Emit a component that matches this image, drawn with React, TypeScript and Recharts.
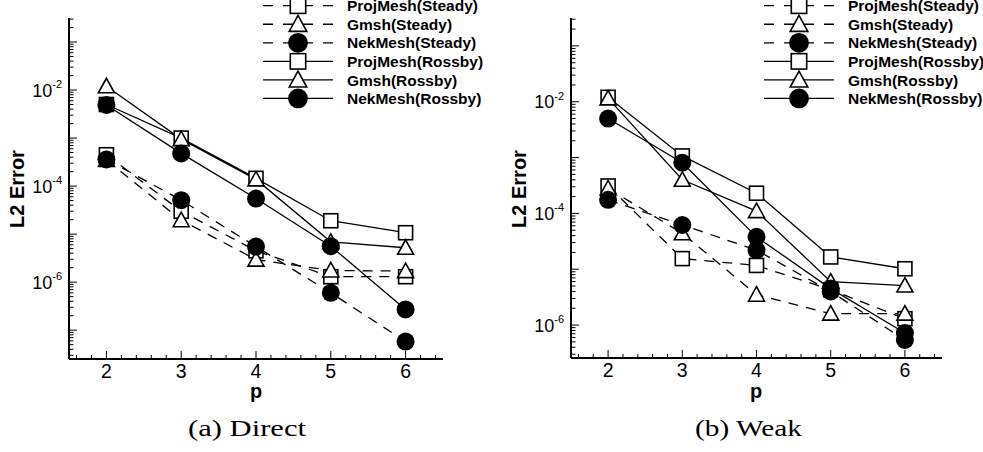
import { LineChart, Line, XAxis, YAxis } from "recharts"

const P_VALUES = [2, 3, 4, 5, 6]

const SERIES_NAMES = [
  "ProjMesh(Steady)",
  "Gmsh(Steady)",
  "NekMesh(Steady)",
  "ProjMesh(Rossby)",
  "Gmsh(Rossby)",
  "NekMesh(Rossby)",
]

// (a) Direct
const DIRECT_PROJ_STEADY = [4.5e-4, 3.0e-5, 4.5e-6, 1.3e-6, 1.3e-6]
const DIRECT_GMSH_STEADY = [3.5e-4, 1.95e-5, 2.95e-6, 1.75e-6, 1.7e-6]
const DIRECT_NEK_STEADY = [3.6e-4, 5.1e-5, 5.5e-6, 6.0e-7, 5.8e-8]
const DIRECT_PROJ_ROSSBY = [5.0e-3, 1.0e-3, 1.45e-4, 1.9e-5, 1.07e-5]
const DIRECT_GMSH_ROSSBY = [1.2e-2, 9.5e-4, 1.38e-4, 6.9e-6, 5.2e-6]
const DIRECT_NEK_ROSSBY = [4.9e-3, 4.8e-4, 5.5e-5, 5.6e-6, 2.7e-7]

// (b) Weak
const WEAK_PROJ_STEADY = [3.1e-4, 1.55e-5, 1.17e-5, 4.3e-6, 1.3e-6]
const WEAK_GMSH_STEADY = [2.8e-4, 4.4e-5, 3.5e-6, 1.6e-6, 1.6e-6]
const WEAK_NEK_STEADY = [1.75e-4, 6.2e-5, 2.2e-5, 4.0e-6, 5.4e-7]
const WEAK_PROJ_ROSSBY = [1.2e-2, 1.07e-3, 2.3e-4, 1.66e-5, 1.02e-5]
const WEAK_GMSH_ROSSBY = [1.15e-2, 4.0e-4, 1.1e-4, 6.0e-6, 5.1e-6]
const WEAK_NEK_ROSSBY = [5.0e-3, 8.1e-4, 3.8e-5, 4.5e-6, 7.2e-7]

const X_TICKS = [
  1.6, 1.8, 2, 2.2, 2.4, 2.6, 2.8, 3, 3.2, 3.4, 3.6, 3.8, 4, 4.2, 4.4, 4.6, 4.8, 5, 5.2, 5.4, 5.6,
  5.8, 6, 6.2, 6.4,
]
const X_LABELS = [2, 3, 4, 5, 6]
const Y_DECADES = [-8, -7, -6, -5, -4, -3, -2, -1, 0]
const Y_MINOR_STEPS = [1, 2, 3, 4, 5, 6, 7, 8, 9]
const Y_LABELED_EXPONENTS = [-2, -4, -6]

const SANS = '"Liberation Sans", Arial, sans-serif'
const SERIF = '"Liberation Serif", "Times New Roman", serif'

const MARKERS = ["square", "triangle", "circle", "square", "triangle", "circle"]

function Marker({ kind, cx, cy, scale = 1 }: { kind: string; cx: number; cy: number; scale?: number }) {
  if (cx == null || cy == null) return null
  if (kind === "square") {
    const h = 7 * scale
    return <rect x={cx - h} y={cy - h} width={2 * h} height={2 * h} fill="#fff" stroke="#000" strokeWidth={1.6} />
  }
  if (kind === "triangle") {
    const w = 8 * scale
    return (
      <polygon
        points={`${cx},${cy - 8 * scale} ${cx + w},${cy + 6.5 * scale} ${cx - w},${cy + 6.5 * scale}`}
        fill="#fff"
        stroke="#000"
        strokeWidth={1.6}
      />
    )
  }
  return <circle cx={cx} cy={cy} r={9 * scale} fill="#000" />
}

function buildRows(series: number[][]) {
  return P_VALUES.map((p, i) => {
    const row: any = { p }
    series.forEach((s, k) => {
      row[`s${k}`] = s[i]
    })
    return row
  })
}

function buildYTicks(minExp: number, maxExp: number) {
  const ticks: number[] = []
  Y_DECADES.forEach((d) => {
    Y_MINOR_STEPS.forEach((m) => {
      const v = m * Math.pow(10, d)
      const e = Math.log10(v)
      if (e >= minExp - 1e-9 && e <= maxExp + 1e-9) ticks.push(v)
    })
  })
  return ticks
}

function YTick(props: any) {
  const { x, y, payload } = props
  const e = Math.log10(payload.value)
  const exp = Math.round(e)
  const isDecade = Math.abs(e - exp) < 1e-6
  const len = isDecade ? 8 : 4.5
  const labeled = isDecade && Y_LABELED_EXPONENTS.includes(exp)
  return (
    <g>
      <line x1={x} x2={x + len} y1={y} y2={y} stroke="#000" strokeWidth={1} />
      {labeled && (
        <text x={x - 7} y={y + 6.5} textAnchor="end" fontFamily={SANS} fontSize={18} fill="#000">
          <tspan>10</tspan>
          <tspan dy={-8.5} fontSize={11}>{`${exp}`}</tspan>
        </text>
      )}
    </g>
  )
}

function XTick(props: any) {
  const { x, y, payload } = props
  const v = payload.value
  const major = X_LABELS.some((l) => Math.abs(l - v) < 1e-6)
  return (
    <g>
      <line x1={x} x2={x} y1={y} y2={y - (major ? 8 : 4)} stroke="#000" strokeWidth={1} />
      {major && (
        <text x={x} y={y + 18.5} textAnchor="middle" fontFamily={SANS} fontSize={19.5} fill="#000">
          {v}
        </text>
      )}
    </g>
  )
}

interface PanelProps {
  left: number
  width: number
  margin: { top: number; right: number; bottom: number; left: number }
  minExp: number
  series: number[][]
}

function Panel({ left, width, margin, minExp, series }: PanelProps) {
  const rows = buildRows(series)
  const maxExp = -0.5
  const yTicks = buildYTicks(minExp, maxExp)
  return (
    <div style={{ position: "absolute", left, top: 0 }}>
      <LineChart width={width} height={452} data={rows} margin={margin}>
        <XAxis
          type="number"
          dataKey="p"
          domain={[1.5, 6.5]}
          allowDataOverflow
          ticks={X_TICKS}
          interval={0}
          tick={XTick}
          tickLine={false}
          tickSize={0}
          tickMargin={0}
          height={30}
          axisLine={{ stroke: "#000", strokeWidth: 2 }}
        />
        <YAxis
          type="number"
          scale="log"
          domain={[Math.pow(10, minExp), Math.pow(10, maxExp)]}
          allowDataOverflow
          ticks={yTicks}
          interval={0}
          tick={YTick}
          tickLine={false}
          tickSize={0}
          tickMargin={0}
          width={60}
          axisLine={{ stroke: "#000", strokeWidth: 2 }}
        />
        {series.map((_, k) => (
          <Line
            key={k}
            dataKey={`s${k}`}
            name={SERIES_NAMES[k]}
            stroke="#000"
            strokeWidth={1.3}
            strokeDasharray={k < 3 ? "10 8" : undefined}
            dot={(p: any) => <Marker key={`m${k}-${p.index}`} kind={MARKERS[k]} cx={p.cx} cy={p.cy} />}
            activeDot={false}
            isAnimationActive={false}
          />
        ))}
      </LineChart>
    </div>
  )
}

// legend + axis titles + caption drawn on top
function Overlay({
  legendX,
  yTitleX,
  pX,
  captionX,
  caption,
  captionWidth,
}: {
  legendX: number
  yTitleX: number
  pX: number
  captionX: number
  caption: string
  captionWidth: number
}) {
  return (
    <g>
      {SERIES_NAMES.map((name, i) => {
        const cy = 5.7 + i * 18.55
        return (
          <g key={name}>
            <line
              x1={legendX}
              x2={legendX + 70}
              y1={cy}
              y2={cy}
              stroke="#000"
              strokeWidth={1.3}
              strokeDasharray={i < 3 ? "10 10" : undefined}
            />
            <Marker kind={MARKERS[i]} cx={legendX + 35} cy={cy} scale={1.1} />
            <text x={legendX + 84} y={cy + 5.6} fontFamily={SANS} fontWeight="bold" fontSize={15.5} fill="#000">
              {name}
            </text>
          </g>
        )
      })}
      <text
        transform={`translate(${yTitleX}, 189) rotate(-90)`}
        textAnchor="middle"
        fontFamily={SANS}
        fontWeight="bold"
        fontSize={20}
        fill="#000"
      >
        L2 Error
      </text>
      <text x={pX} y={398} textAnchor="middle" fontFamily={SANS} fontWeight="bold" fontSize={20} fill="#000">
        p
      </text>
      <text
        x={captionX - captionWidth / 2}
        y={436}
        textLength={captionWidth}
        lengthAdjust="spacingAndGlyphs"
        fontFamily={SERIF}
        fontSize={24}
        fill="#000"
      >
        {caption}
      </text>
    </g>
  )
}

export default function App() {
  return (
    <div style={{ position: "absolute", left: 0, top: 0, width: 983, height: 452, background: "#fff", overflow: "hidden" }}>
      <Panel
        left={0}
        width={490}
        margin={{ top: 18, right: 47, bottom: 63, left: 9 }}
        minExp={-7.6}
        series={[
          DIRECT_PROJ_STEADY,
          DIRECT_GMSH_STEADY,
          DIRECT_NEK_STEADY,
          DIRECT_PROJ_ROSSBY,
          DIRECT_GMSH_ROSSBY,
          DIRECT_NEK_ROSSBY,
        ]}
      />
      <Panel
        left={490}
        width={493}
        margin={{ top: 18, right: 41, bottom: 64, left: 21 }}
        minExp={-6.59}
        series={[
          WEAK_PROJ_STEADY,
          WEAK_GMSH_STEADY,
          WEAK_NEK_STEADY,
          WEAK_PROJ_ROSSBY,
          WEAK_GMSH_ROSSBY,
          WEAK_NEK_ROSSBY,
        ]}
      />
      <svg width={983} height={452} style={{ position: "absolute", left: 0, top: 0, pointerEvents: "none" }}>
        <Overlay legendX={263} yTitleX={24} pX={256} captionX={247} caption="(a) Direct" captionWidth={118} />
        <Overlay legendX={764} yTitleX={526} pX={756} captionX={748.5} caption="(b) Weak" captionWidth={107} />
      </svg>
    </div>
  )
}
